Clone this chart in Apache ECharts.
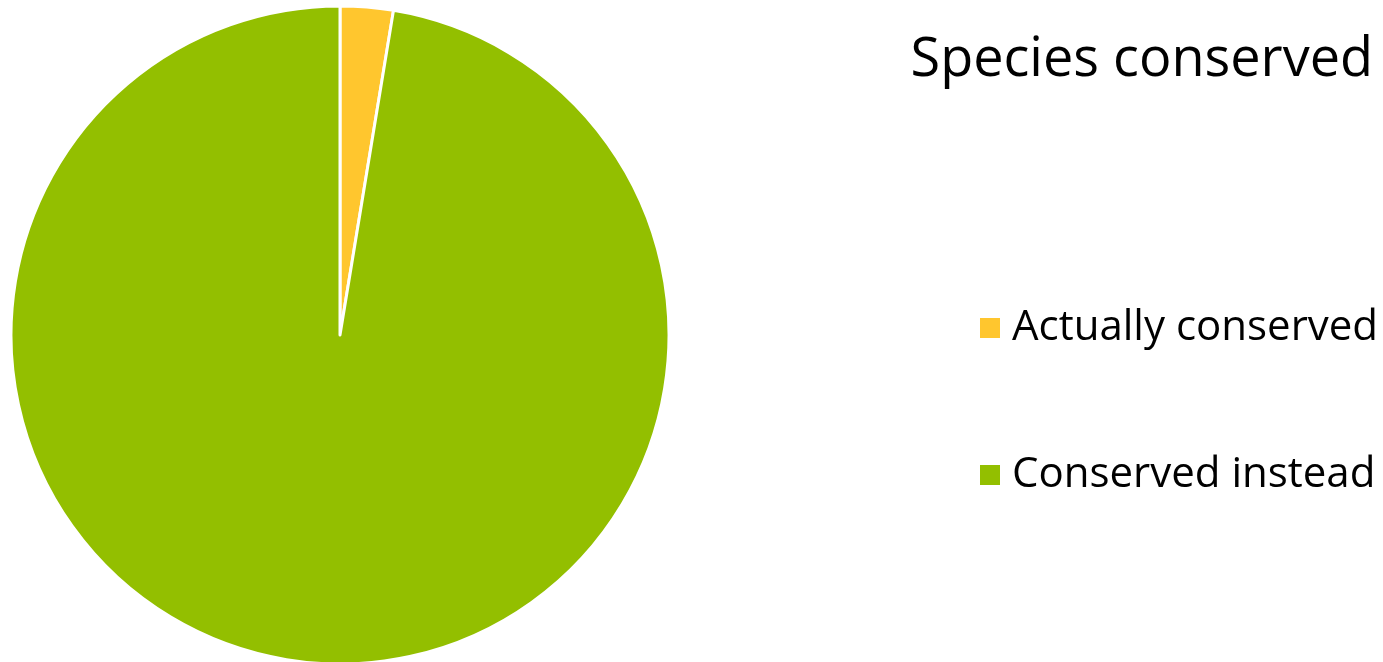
<!DOCTYPE html>
<html>
<head>
<meta charset="utf-8">
<script src="https://cdn.jsdelivr.net/npm/echarts@6/dist/echarts.min.js"></script>
<style>
  html, body { margin: 0; padding: 0; background: #fff; }
  #chart { width: 1383px; height: 662px; }
</style>
</head>
<body>
<div id="chart"></div>
<script>
// slice names and shares (percent)
const categories = ['Actually conserved', 'Conserved instead']
const values = [2.6, 97.4]
const colors = ['#FFC62E', '#93BF00']

const chart = echarts.init(document.getElementById('chart'))

const option = {
  backgroundColor: '#fff',
  animation: false,
  title: {
    text: 'Species conserved',
    right: 5, top: 29,
    textStyle: { fontFamily: 'Open Sans', fontSize: 54, fontWeight: 'normal', color: '#000' }
  },
  legend: {
    orient: 'vertical',
    left: 973, top: 302,
    icon: 'rect',
    itemWidth: 22, itemHeight: 22,
    itemGap: 105,
    textStyle: { fontFamily: 'Open Sans', fontSize: 42, lineHeight: 42, color: '#000', padding: [0, 0, 0, 6] },
    data: categories
  },
  series: [{
    type: 'pie',
    center: [340, 335],
    radius: 329,
    startAngle: 90,
    clockwise: true,
    label: { show: false },
    labelLine: { show: false },
    itemStyle: { borderColor: '#fff', borderWidth: 3 },
    emphasis: { disabled: true },
    data: categories.map((c, i) => ({ name: c, value: values[i], itemStyle: { color: colors[i] } }))
  }]
}

chart.setOption(option)
</script>
</body>
</html>
